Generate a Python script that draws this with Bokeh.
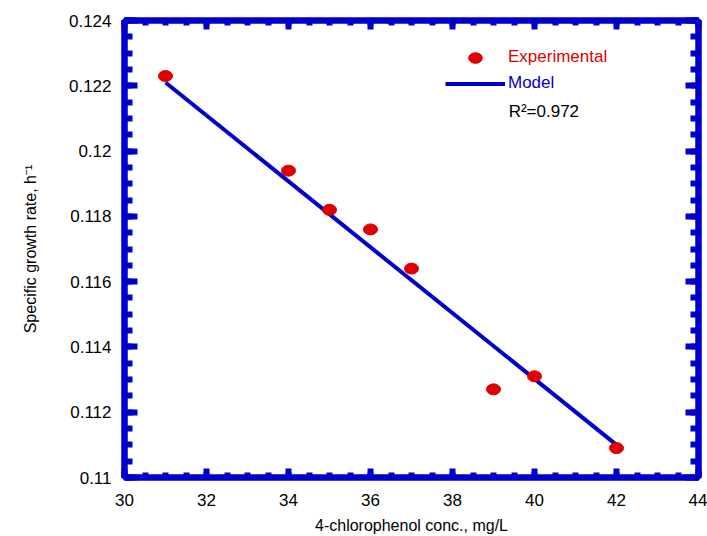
from bokeh.plotting import figure
from bokeh.models import (Legend, LegendItem, Label, LinearAxis, SingleIntervalTicker,
                          CustomJSTickFormatter, Range1d)
from bokeh.embed import file_html
from bokeh.resources import INLINE

# Data
conc = [31, 34, 35, 36, 37, 39, 40, 42]
rate = [0.1223, 0.1194, 0.1182, 0.1176, 0.1164, 0.1127, 0.1131, 0.1109]
model_conc = [31, 42]
model_rate = [0.1221, 0.1110]
r2_text = "R²=0.972"

BLUE = "#0000CC"
RED = "#E00000"
FONT = "Liberation Sans"

p = figure(width=707, height=536, x_range=Range1d(30, 44), y_range=Range1d(0.11, 0.124),
           output_backend="svg", toolbar_location=None,
           min_border_left=124, min_border_right=9, min_border_top=20, min_border_bottom=58)
p.grid.visible = False
p.outline_line_color = BLUE
p.outline_line_width = 6

xt = SingleIntervalTicker(interval=2, num_minor_ticks=4)
yt = SingleIntervalTicker(interval=0.002, num_minor_ticks=4)
yfmt = CustomJSTickFormatter(code="return String(Number(tick.toFixed(3)));")
blank = CustomJSTickFormatter(code="return '';")


def style_axis(ax, horizontal, show_labels):
    ax.axis_line_color = BLUE
    ax.axis_line_width = 6
    ax.major_tick_line_color = BLUE
    ax.minor_tick_line_color = BLUE
    ax.major_tick_line_width = 6
    ax.minor_tick_line_width = 6
    ax.major_tick_out = 0
    ax.minor_tick_out = 0
    if horizontal:
        ax.major_tick_in = 9
        ax.minor_tick_in = 5
    else:
        ax.major_tick_in = 13
        ax.minor_tick_in = 8
    if show_labels:
        ax.major_label_text_font = FONT
        ax.major_label_text_font_size = "17px"
        ax.major_label_text_color = "black"
        ax.axis_label_text_font = FONT
        ax.axis_label_text_font_size = "16px"
        ax.axis_label_text_font_style = "normal"
        ax.axis_label_text_color = "black"
    else:
        ax.formatter = blank
        ax.major_label_text_color = None
        ax.major_label_standoff = 0
        ax.axis_label = None


xa = p.xaxis[0]
xa.ticker = xt
style_axis(xa, True, True)
xa.axis_label = "4-chlorophenol conc., mg/L"
xa.major_label_standoff = 16
xa.axis_label_standoff = 8

ya = p.yaxis[0]
ya.ticker = yt
ya.formatter = yfmt
style_axis(ya, False, True)
ya.axis_label = "Specific growth rate, h⁻¹"
ya.major_label_standoff = 13
ya.axis_label_standoff = 27

top = LinearAxis(ticker=xt)
style_axis(top, True, False)
p.add_layout(top, "above")
right = LinearAxis(ticker=yt)
style_axis(right, False, False)
p.add_layout(right, "right")

r_line = p.line(model_conc, model_rate, line_color=BLUE, line_width=4)
r_pts = p.ellipse(x=conc, y=rate, width=14, height=11, width_units="screen",
                  height_units="screen", fill_color=RED, line_color=RED)

common = dict(glyph_width=60, glyph_height=17, label_height=17, label_standoff=3,
              padding=0, margin=0, spacing=0, border_line_color=None,
              background_fill_alpha=0, label_text_font=FONT, label_text_font_size="17px")
leg1 = Legend(items=[LegendItem(label="Experimental", renderers=[r_pts])],
              location=(321, 410), label_text_color=RED, **common)
leg2 = Legend(items=[LegendItem(label="Model", renderers=[r_line])],
              location=(321, 384), label_text_color=BLUE, **common)
p.add_layout(leg1)
p.add_layout(leg2)

p.add_layout(Label(x=39.37, y=0.12122, text=r2_text, text_baseline="middle",
                   text_font=FONT, text_font_size="17px", text_color="black"))

open("out.html", "w").write(file_html(p, INLINE))
